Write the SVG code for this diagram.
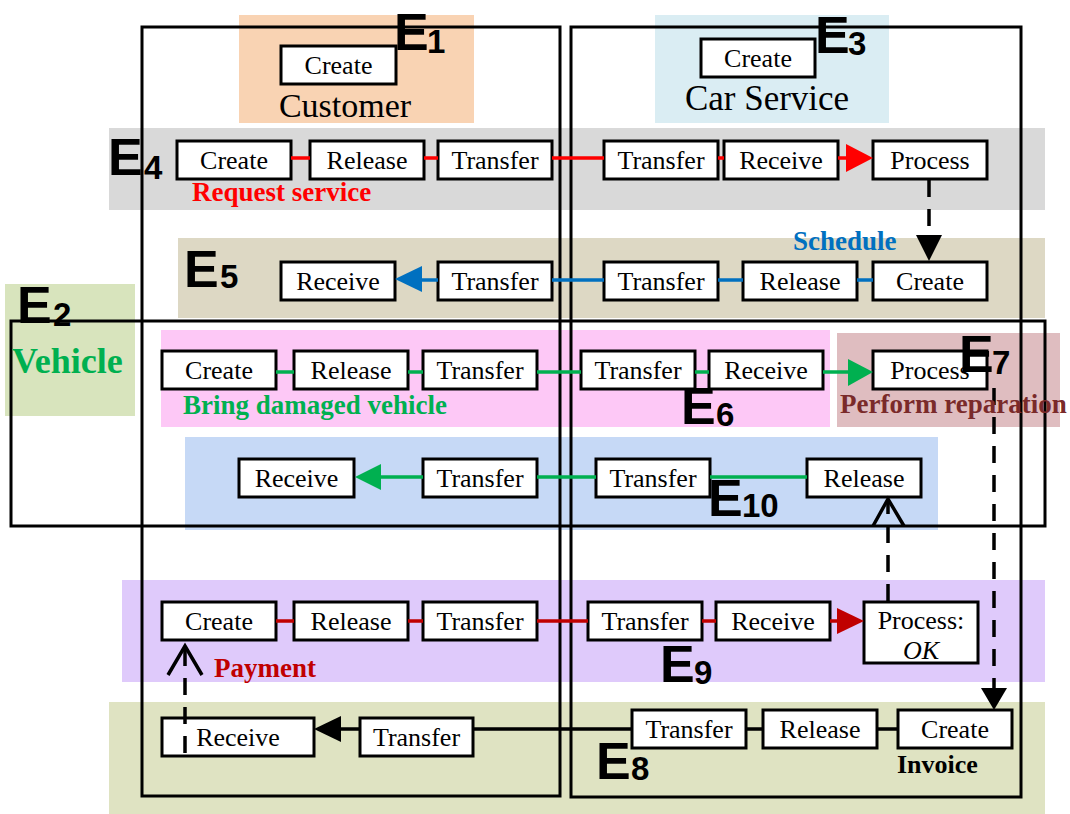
<svg xmlns="http://www.w3.org/2000/svg" width="1070" height="814" viewBox="0 0 1070 814">
  <style>
    .node rect { fill: #ffffff; stroke: #000000; stroke-width: 3; }
    .node text { font-family: "Liberation Serif", "Times New Roman", serif; font-size: 26px; fill: #000; text-anchor: middle; }
    .frame { fill: none; stroke: #000; stroke-width: 3; }
    .elabel { font-family: "Liberation Sans", Arial, sans-serif; font-weight: bold; fill: #000; }
    .elabel .e { font-size: 52px; }
    .elabel .n { font-size: 33px; }
    .cap { font-family: "Liberation Serif", "Times New Roman", serif; font-weight: bold; font-size: 27px; }
    .title { font-family: "Liberation Serif", "Times New Roman", serif; font-size: 35px; fill: #000; text-anchor: middle; }
    .red { stroke: #ff0000; stroke-width: 3.5; fill: none; }
    .blue { stroke: #0070c0; stroke-width: 3.5; fill: none; }
    .green { stroke: #00b050; stroke-width: 3.5; fill: none; }
    .dred { stroke: #c00000; stroke-width: 3.5; fill: none; }
    .black { stroke: #000; stroke-width: 3.5; fill: none; }
    .dash { stroke: #000; stroke-width: 3.5; fill: none; stroke-dasharray: 17 12; }
  </style>

  <!-- background bands for each event -->
  <g id="bands">
    <rect x="239" y="15" width="235" height="108" fill="#f9d3b3"/>
    <rect x="655" y="15" width="234" height="108" fill="#daedf3"/>
    <rect x="109" y="128" width="936" height="82" fill="#d9d9d9"/>
    <rect x="178" y="238" width="867" height="80" fill="#ddd8c4"/>
    <rect x="5" y="284" width="130" height="132" fill="#d8e4bd"/>
    <rect x="161" y="330" width="669" height="97" fill="#fdc8f6"/>
    <rect x="837" y="333" width="223" height="94" fill="#dfbdc0"/>
    <rect x="185" y="437" width="753" height="93" fill="#c6d9f6"/>
    <rect x="122" y="580" width="923" height="102" fill="#dfcafb"/>
    <rect x="109" y="702" width="936" height="112" fill="#dfe3c2"/>
  </g>

  <!-- participant frames -->
  <g id="frames">
    <rect id="customer-frame" class="frame" x="142" y="27" width="418" height="769"/>
    <rect id="carservice-frame" class="frame" x="571" y="27" width="450" height="770"/>
    <rect id="vehicle-frame" class="frame" x="11" y="321" width="1034" height="205"/>
  </g>

  <!-- nodes -->
  <g id="n-customer-create" class="node"><rect x="281" y="46" width="115" height="38"/><text x="338.5" y="74">Create</text></g>
  <g id="n-carservice-create" class="node"><rect x="701" y="39" width="114" height="38"/><text x="758" y="67">Create</text></g>

  <g id="n-e4-create" class="node"><rect x="177" y="141" width="114" height="38"/><text x="234" y="169">Create</text></g>
  <g id="n-e4-release" class="node"><rect x="310" y="141" width="114" height="38"/><text x="367" y="169">Release</text></g>
  <g id="n-e4-transfer-a" class="node"><rect x="438" y="141" width="114" height="38"/><text x="495" y="169">Transfer</text></g>
  <g id="n-e4-transfer-b" class="node"><rect x="604" y="141" width="114" height="38"/><text x="661" y="169">Transfer</text></g>
  <g id="n-e4-receive" class="node"><rect x="724" y="141" width="114" height="38"/><text x="781" y="169">Receive</text></g>
  <g id="n-e4-process" class="node"><rect x="873" y="141" width="114" height="38"/><text x="930" y="169">Process</text></g>

  <g id="n-e5-receive" class="node"><rect x="281" y="262" width="114" height="38"/><text x="338" y="290">Receive</text></g>
  <g id="n-e5-transfer-a" class="node"><rect x="438" y="262" width="114" height="38"/><text x="495" y="290">Transfer</text></g>
  <g id="n-e5-transfer-b" class="node"><rect x="604" y="262" width="114" height="38"/><text x="661" y="290">Transfer</text></g>
  <g id="n-e5-release" class="node"><rect x="743" y="262" width="114" height="38"/><text x="800" y="290">Release</text></g>
  <g id="n-e5-create" class="node"><rect x="873" y="262" width="114" height="38"/><text x="930" y="290">Create</text></g>

  <g id="n-e6-create" class="node"><rect x="162" y="351" width="114" height="38"/><text x="219" y="379">Create</text></g>
  <g id="n-e6-release" class="node"><rect x="294" y="351" width="114" height="38"/><text x="351" y="379">Release</text></g>
  <g id="n-e6-transfer-a" class="node"><rect x="423" y="351" width="114" height="38"/><text x="480" y="379">Transfer</text></g>
  <g id="n-e6-transfer-b" class="node"><rect x="581" y="351" width="114" height="38"/><text x="638" y="379">Transfer</text></g>
  <g id="n-e6-receive" class="node"><rect x="709" y="351" width="114" height="38"/><text x="766" y="379">Receive</text></g>
  <g id="n-e7-process" class="node"><rect x="873" y="351" width="114" height="38"/><text x="930" y="379">Process</text></g>

  <g id="n-e10-receive" class="node"><rect x="239" y="459" width="115" height="38"/><text x="296.5" y="487">Receive</text></g>
  <g id="n-e10-transfer-a" class="node"><rect x="423" y="459" width="114" height="38"/><text x="480" y="487">Transfer</text></g>
  <g id="n-e10-transfer-b" class="node"><rect x="596" y="459" width="114" height="38"/><text x="653" y="487">Transfer</text></g>
  <g id="n-e10-release" class="node"><rect x="807" y="459" width="114" height="38"/><text x="864" y="487">Release</text></g>

  <g id="n-e9-create" class="node"><rect x="162" y="602" width="114" height="38"/><text x="219" y="630">Create</text></g>
  <g id="n-e9-release" class="node"><rect x="294" y="602" width="114" height="38"/><text x="351" y="630">Release</text></g>
  <g id="n-e9-transfer-a" class="node"><rect x="423" y="602" width="114" height="38"/><text x="480" y="630">Transfer</text></g>
  <g id="n-e9-transfer-b" class="node"><rect x="588" y="602" width="114" height="38"/><text x="645" y="630">Transfer</text></g>
  <g id="n-e9-receive" class="node"><rect x="716" y="602" width="114" height="38"/><text x="773" y="630">Receive</text></g>
  <g id="n-e9-process" class="node"><rect x="864" y="602" width="114" height="61"/><text x="921" y="629">Process:</text><text x="921" y="659" font-style="italic">OK</text></g>

  <g id="n-e8-receive" class="node"><rect x="162" y="718" width="152" height="38"/><text x="238" y="746">Receive</text></g>
  <g id="n-e8-transfer-a" class="node"><rect x="360" y="718" width="113" height="38"/><text x="416.5" y="746">Transfer</text></g>
  <g id="n-e8-transfer-b" class="node"><rect x="632" y="710" width="114" height="38"/><text x="689" y="738">Transfer</text></g>
  <g id="n-e8-release" class="node"><rect x="763" y="710" width="114" height="38"/><text x="820" y="738">Release</text></g>
  <g id="n-e8-create" class="node"><rect x="898" y="710" width="114" height="38"/><text x="955" y="738">Create</text></g>

  <!-- connectors -->
  <g id="connectors">
    <!-- E4 request service -->
    <path class="red" d="M291 158 H310 M424 158 H438 M552 158 H604 M718 158 H724 M838 158 H848"/>
    <polygon points="846,144 873,158 846,172" fill="#ff0000"/>
    <!-- E5 schedule -->
    <path class="blue" d="M420 280 H438 M552 280 H604 M718 280 H743 M857 280 H873"/>
    <polygon points="422,266 395,279 422,292" fill="#0070c0"/>
    <!-- E6 bring damaged vehicle -->
    <path class="green" d="M276 372 H294 M408 372 H423 M537 372 H581 M695 372 H709 M823 372 H850"/>
    <polygon points="848,359 873,372 848,386" fill="#00b050"/>
    <!-- E10 return vehicle -->
    <path class="green" d="M378 477 H423 M537 477 H596 M710 477 H807"/>
    <polygon points="381,464 355,477 381,490" fill="#00b050"/>
    <!-- E9 payment -->
    <path class="dred" d="M276 621 H294 M408 621 H423 M537 621 H588 M702 621 H716 M830 621 H840"/>
    <polygon points="837,608 864,621 837,634" fill="#c00000"/>
    <!-- E8 invoice -->
    <path class="black" d="M339 729 H360 M473 729 H632 M746 729 H763 M877 729 H898"/>
    <polygon points="341,716 314,729 341,742" fill="#000"/>
    <!-- dependencies -->
    <line class="dash" x1="929" y1="180" x2="929" y2="236"/>
    <polygon points="916,235 942,235 929,261" fill="#000"/>
    <line class="dash" x1="994" y1="388" x2="994" y2="690"/>
    <polygon points="981,688 1007,688 994,710" fill="#000"/>
    <line class="dash" x1="888" y1="601" x2="888" y2="500"/>
    <polyline points="873,526 888,499 904,526" fill="none" stroke="#000" stroke-width="3.5"/>
    <line class="dash" x1="185" y1="753" x2="185" y2="648"/>
    <polyline points="168,675 185,646 202,675" fill="none" stroke="#000" stroke-width="3.5"/>
  </g>

  <!-- participant titles and event captions -->
  <text class="title" x="345" y="117" style="font-size:34px">Customer</text>
  <text class="title" x="767" y="110">Car Service</text>
  <text class="cap" x="192" y="201" fill="#ff0000">Request service</text>
  <text class="cap" x="793" y="250" fill="#0070c0">Schedule</text>
  <text class="cap" x="12" y="373" fill="#00b050" style="font-size:36px">Vehicle</text>
  <text class="cap" x="183" y="414" fill="#00b050">Bring damaged vehicle</text>
  <text class="cap" x="840" y="413" fill="#7a2a2a">Perform reparation</text>
  <text class="cap" x="214" y="677" fill="#c00000">Payment</text>
  <text class="cap" x="897" y="773" fill="#000" style="font-size:26px">Invoice</text>

  <!-- event identifiers -->
  <g id="event-labels" class="elabel">
    <text><tspan class="e" x="394" y="50">E</tspan><tspan class="n" x="427" y="53">1</tspan></text>
    <text><tspan class="e" x="815" y="53">E</tspan><tspan class="n" x="848" y="55">3</tspan></text>
    <text><tspan class="e" x="108" y="175">E</tspan><tspan class="n" x="144" y="179">4</tspan></text>
    <text><tspan class="e" x="184" y="287">E</tspan><tspan class="n" x="220" y="288">5</tspan></text>
    <text><tspan class="e" x="17" y="323">E</tspan><tspan class="n" x="53" y="326">2</tspan></text>
    <text><tspan class="e" x="681" y="424">E</tspan><tspan class="n" x="716" y="426">6</tspan></text>
    <text><tspan class="e" x="959" y="372">E</tspan><tspan class="n" x="992" y="374">7</tspan></text>
    <text><tspan class="e" x="708" y="516">E</tspan><tspan class="n" x="742" y="517">10</tspan></text>
    <text><tspan class="e" x="660" y="682">E</tspan><tspan class="n" x="694" y="684">9</tspan></text>
    <text><tspan class="e" x="596" y="779">E</tspan><tspan class="n" x="631" y="780">8</tspan></text>
  </g>
</svg>
